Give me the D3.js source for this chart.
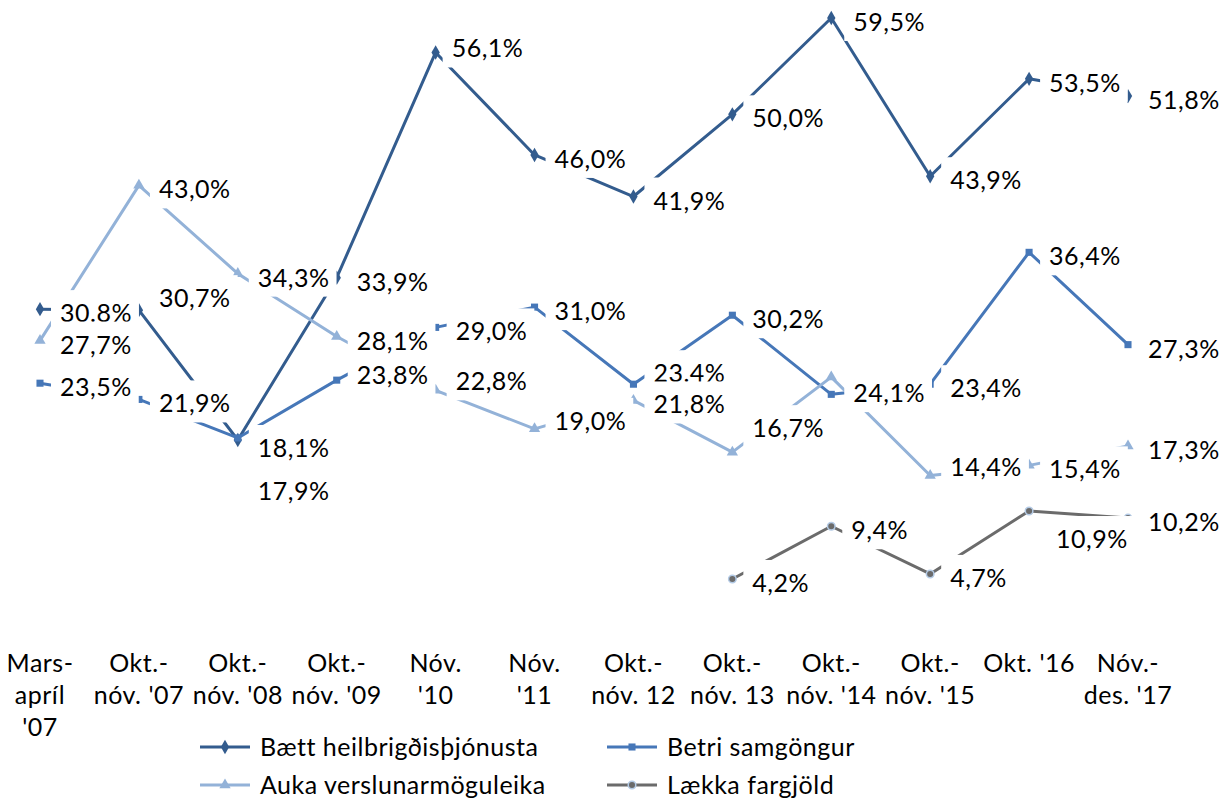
<!DOCTYPE html>
<html>
<head>
<meta charset="utf-8">
<script src="https://cdn.jsdelivr.net/npm/d3@7"></script>
<style>
  body { margin: 0; background: #fff; }
  svg { font-family: Lato, "Open Sans", sans-serif; letter-spacing: 0.5px; }
</style>
</head>
<body>
<svg id="chart" width="1225" height="800"></svg>
<script>
// categories (survey periods)
const categories = [
  "Mars-\napríl\n'07", "Okt.-\nnóv. '07", "Okt.-\nnóv. '08", "Okt.-\nnóv. '09",
  "Nóv.\n'10", "Nóv.\n'11", "Okt.-\nnóv. 12", "Okt.-\nnóv. 13",
  "Okt.-\nnóv. '14", "Okt.-\nnóv. '15", "Okt. '16", "Nóv.-\ndes. '17"
];

// series values (%)
const heilbrigdis = [30.8, 30.7, 17.9, 33.9, 56.1, 46.0, 41.9, 50.0, 59.5, 43.9, 53.5, 51.8];
const samgongur = [23.5, 21.9, 18.1, 23.8, 29.0, 31.0, 23.4, 30.2, 22.4, 23.4, 36.4, 27.3];
const verslun = [27.7, 43.0, 34.3, 28.1, 22.8, 19.0, 21.8, 16.7, 24.1, 14.4, 15.4, 17.3];
const fargjold = [null, null, null, null, null, null, null, 4.2, 9.4, 4.7, 10.9, 10.2];

const seriesNames = ["Bætt heilbrigðisþjónusta", "Betri samgöngur", "Auka verslunarmöguleika", "Lækka fargjöld"];

const series = [
  { name: seriesNames[0], values: heilbrigdis, color: "#335C8E", marker: "diamond" },
  { name: seriesNames[1], values: samgongur, color: "#4677B8", marker: "square" },
  { name: seriesNames[2], values: verslun, color: "#93B2D8", marker: "triangle" },
  { name: seriesNames[3], values: fargjold, color: "#6B6B6B", marker: "circle" }
];

// label tweaks: [series, index] -> offset from the default spot
const nudge = {
  "0,1": { dy: -16 }, "0,2": { dy: 47 }, "0,4": { dx: -4, dy: -8 }, "0,8": { dx: 2 },
  "1,2": { dy: 6 }, "1,3": { dy: -9 }, "1,6": { dy: -15 },
  "2,4": { dy: -13 }, "2,5": { dy: -12 }, "2,7": { dy: -28 }, "2,8": { dx: 2, dy: 12 }, "2,9": { dy: -13 },
  "3,10": { dx: 7, dy: 24 }
};
const hiddenLabels = ["1,8"];
const periodLabels = ["0,0", "1,6"];

const fs = 25;
const svg = d3.select("#chart");

const x = d3.scalePoint().domain(d3.range(categories.length)).range([40, 1128]);
const y = d3.scaleLinear().domain([0, 60]).range([621.6, 12.9]);

const symbolFor = {
  diamond: d3.symbol().type(d3.symbolDiamond).size(60),
  square: d3.symbol().type(d3.symbolSquare).size(50),
  triangle: d3.symbol().type(d3.symbolTriangle).size(55),
  circle: d3.symbol().type(d3.symbolCircle).size(45)
};

const line = d3.line()
  .defined(d => d.v != null)
  .x(d => x(d.i))
  .y(d => y(d.v));

const pts = s => s.values.map((v, i) => ({ v, i })).filter(d => d.v != null);

// lines
series.forEach(s => {
  svg.append("path")
    .datum(s.values.map((v, i) => ({ v, i })))
    .attr("fill", "none")
    .attr("stroke", s.color)
    .attr("stroke-width", 3)
    .attr("stroke-linejoin", "round")
    .attr("d", line);
});

// markers
series.forEach(s => {
  svg.selectAll(null)
    .data(pts(s))
    .join("path")
    .attr("transform", d => `translate(${x(d.i)},${y(d.v)})`)
    .attr("d", symbolFor[s.marker]())
    .attr("fill", s.color)
    .attr("stroke", s.marker === "circle" ? "#B4CBE6" : "none")
    .attr("stroke-width", 1.5);
});

// data labels with white boxes
const fmt = d3.format(".1f");
series.forEach((s, si) => {
  pts(s).forEach(d => {
    const key = si + "," + d.i;
    if (hiddenLabels.includes(key)) return;
    const n = nudge[key] || {};
    const tx = x(d.i) + 20 + (n.dx || 0);
    const cy = y(d.v) + 4 + (n.dy || 0);
    let txt = fmt(d.v) + "%";
    if (!periodLabels.includes(key)) txt = txt.replace(".", ",");
    const g = svg.append("g");
    const rect = g.append("rect").attr("fill", "#fff");
    const t = g.append("text")
      .attr("x", tx)
      .attr("y", cy)
      .attr("dy", "0.36em")
      .attr("font-size", fs)
      .attr("fill", "#000")
      .text(txt);
    const w = t.node().getComputedTextLength();
    rect.attr("x", tx - 9).attr("y", cy - 23).attr("width", w + 16).attr("height", 42);
  });
});

// category labels
const cat = svg.append("g");
categories.forEach((c, i) => {
  const t = cat.append("text")
    .attr("x", x(i))
    .attr("y", 663)
    .attr("text-anchor", "middle")
    .attr("font-size", fs)
    .attr("fill", "#000");
  c.split("\n").forEach((ln, k) => {
    t.append("tspan").attr("x", x(i)).attr("dy", k === 0 ? "0.36em" : 32).text(ln);
  });
});

// legend
const legendPos = [[200, 747], [607, 747], [200, 785], [607, 785]];
series.forEach((s, si) => {
  const [lx, ly] = legendPos[si];
  const g = svg.append("g").attr("transform", `translate(${lx},${ly})`);
  g.append("line").attr("x1", 0).attr("x2", 50)
    .attr("stroke", s.color).attr("stroke-width", 3);
  g.append("path").attr("transform", "translate(25,0)")
    .attr("d", symbolFor[s.marker]())
    .attr("fill", s.color)
    .attr("stroke", s.marker === "circle" ? "#B4CBE6" : "none")
    .attr("stroke-width", 1.5);
  g.append("text").attr("x", 60).attr("dy", "0.36em")
    .attr("font-size", fs).attr("fill", "#000")
    .text(s.name);
});
</script>
</body>
</html>
